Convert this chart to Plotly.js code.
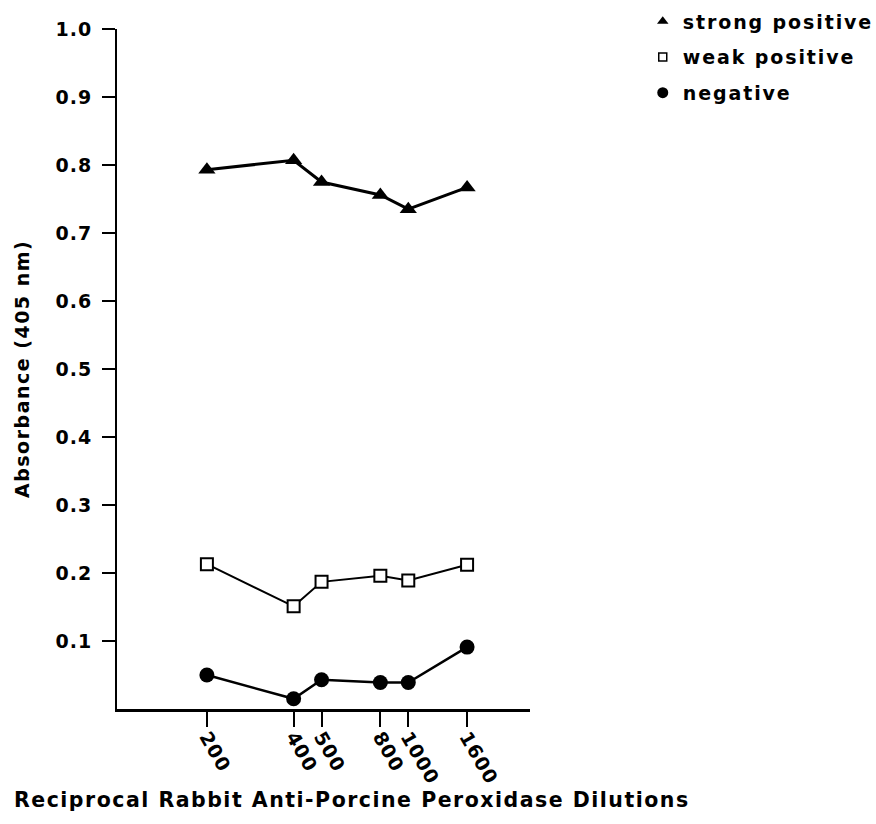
<!DOCTYPE html>
<html><head><meta charset="utf-8">
<script src="https://cdn.plot.ly/plotly-3.0.1.min.js"></script>
<style>
html,body{margin:0;padding:0;background:#fff;}
text{letter-spacing:1px;}
text.annotation-text{letter-spacing:1.5px;}
text.legendtext{letter-spacing:1.9px;}
</style></head><body>
<div id="chart" style="width:876px;height:824px;"></div>
<script>
const dilutions = [200, 400, 500, 800, 1000, 1600];
const dilutionLabels = ['200', '400', '500', '800', '1000', '1600'];
const strongPositive = [0.793, 0.807, 0.775, 0.756, 0.735, 0.767];
const weakPositive = [0.213, 0.151, 0.187, 0.196, 0.189, 0.212];
const negative = [0.050, 0.015, 0.043, 0.039, 0.039, 0.091];
const yTicks = [0.1, 0.2, 0.3, 0.4, 0.5, 0.6, 0.7, 0.8, 0.9, 1.0];
const yTickLabels = ['0.1', '0.2', '0.3', '0.4', '0.5', '0.6', '0.7', '0.8', '0.9', '1.0'];
const seriesNames = ['strong positive', 'weak positive', 'negative'];

const F = {family: 'DejaVu Sans', weight: 'bold', color: '#000'};

const traces = [
  {x: dilutions, y: strongPositive, mode: 'lines+markers', showlegend: false,
   line: {color: '#000', width: 3},
   marker: {symbol: 'triangle-up', size: 15, color: '#000'}},
  {x: dilutions, y: weakPositive, mode: 'lines+markers', showlegend: false,
   line: {color: '#000', width: 2},
   marker: {symbol: 'square', size: 12, color: '#fff', line: {color: '#000', width: 2}}},
  {x: dilutions, y: negative, mode: 'lines+markers', showlegend: false,
   line: {color: '#000', width: 2.5},
   marker: {symbol: 'circle', size: 15, color: '#000'}},
  {x: [null], y: [null], mode: 'markers', name: seriesNames[0], legendgroup: 'a',
   marker: {symbol: 'triangle-up', size: 10, color: '#000'}},
  {x: [null], y: [null], mode: 'markers', name: seriesNames[1], legendgroup: 'b',
   marker: {symbol: 'square', size: 8, color: '#fff', line: {color: '#000', width: 1.5}}},
  {x: [null], y: [null], mode: 'markers', name: seriesNames[2], legendgroup: 'c',
   marker: {symbol: 'circle', size: 11, color: '#000'}}
];

const layout = {
  width: 876, height: 824,
  margin: {l: 117, r: 346, t: 29, b: 115, autoexpand: false},
  paper_bgcolor: '#fff', plot_bgcolor: '#fff',
  font: F,
  showlegend: true,
  legend: {x: 1.273, xanchor: 'left', y: 1.039, yanchor: 'top',
           font: Object.assign({}, F, {size: 19}),
           traceorder: 'grouped', tracegroupgap: 8, bgcolor: 'rgba(0,0,0,0)'},
  xaxis: {type: 'log', range: [1.989, 3.4225], showgrid: false, zeroline: false,
          showline: true, linecolor: '#000', linewidth: 2.5,
          tickmode: 'array', tickvals: dilutions, ticktext: dilutionLabels,
          ticks: 'outside', ticklen: 15, tickwidth: 2, tickcolor: '#000',
          ticklabelstandoff: -8,
          tickangle: 60, tickfont: Object.assign({}, F, {size: 19})},
  yaxis: {range: [0, 1], showgrid: false, zeroline: false,
          showline: true, linecolor: '#000', linewidth: 2,
          tickmode: 'array', tickvals: yTicks, ticktext: yTickLabels,
          ticks: 'outside', ticklen: 13, tickwidth: 2, tickcolor: '#000',
          ticklabelstandoff: 6,
          tickfont: Object.assign({}, F, {size: 19})},
  annotations: [
    {text: 'Reciprocal Rabbit Anti-Porcine Peroxidase Dilutions', xref: 'paper', yref: 'paper',
     x: 0.569, y: -0.134, xanchor: 'center', yanchor: 'middle', showarrow: false,
     font: Object.assign({}, F, {size: 20.5})},
    {text: 'Absorbance (405 nm)', xref: 'paper', yref: 'paper',
     x: -0.230, y: 0.5, xanchor: 'center', yanchor: 'middle', textangle: -90, showarrow: false,
     font: Object.assign({}, F, {size: 19})}
  ]
};

Plotly.newPlot('chart', traces, layout, {displayModeBar: false, staticPlot: true});
</script></body></html>
